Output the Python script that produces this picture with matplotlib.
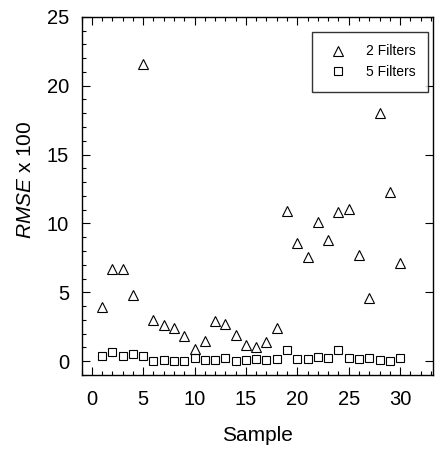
import matplotlib
matplotlib.use('Agg')
import matplotlib.pyplot as plt
from matplotlib.ticker import MultipleLocator

plt.rcParams['font.family'] = 'Liberation Sans'
plt.rcParams['mathtext.fontset'] = 'custom'
plt.rcParams['mathtext.rm'] = 'Liberation Sans'
plt.rcParams['mathtext.it'] = 'Liberation Sans:italic'

samples = list(range(1, 31))
rmse_2_filters = [3.9, 6.7, 6.7, 4.8, 21.6, 3.0, 2.6, 2.4, 1.8, 0.85,
                  1.45, 2.9, 2.7, 1.9, 1.15, 1.05, 1.4, 2.4, 10.9, 8.6,
                  7.55, 10.1, 8.8, 10.8, 11.05, 7.7, 4.55, 18.0, 12.3, 7.15]
rmse_5_filters = [0.4, 0.65, 0.35, 0.55, 0.4, 0.0, 0.1, 0.0, 0.0, 0.2,
                  0.1, 0.1, 0.2, 0.0, 0.05, 0.15, 0.1, 0.15, 0.8, 0.15,
                  0.15, 0.3, 0.2, 0.8, 0.2, 0.15, 0.2, 0.05, 0.0, 0.2]

fig = plt.figure(figsize=(4.36, 4.55), dpi=100)
ax = fig.add_axes([0.187, 0.176, 0.806, 0.787])

ax.plot(samples, rmse_2_filters, linestyle='none', marker='^', markersize=7,
        mfc='none', mec='black', mew=0.8, label='2 Filters')
ax.plot(samples, rmse_5_filters, linestyle='none', marker='s', markersize=6,
        mfc='none', mec='black', mew=0.8, label='5 Filters')

ax.set_xlim(-1, 33.2)
ax.set_ylim(-1, 25)
ax.xaxis.set_major_locator(MultipleLocator(5))
ax.xaxis.set_minor_locator(MultipleLocator(1))
ax.yaxis.set_major_locator(MultipleLocator(5))
ax.yaxis.set_minor_locator(MultipleLocator(1))

ax.tick_params(which='both', direction='in', top=True, right=True,
               labelsize=14.5)
ax.tick_params(axis='x', pad=11)
ax.tick_params(axis='y', pad=9)
ax.tick_params(which='major', length=6, width=0.8)
ax.tick_params(which='minor', length=3, width=0.8, right=False)

for s in ax.spines.values():
    s.set_linewidth(1.0)

ax.set_xlabel('Sample', fontsize=15, labelpad=12)
ax.set_ylabel('$\\it{RMSE}$ x 100', fontsize=15)
ax.yaxis.set_label_coords(-0.132, 0.545)

leg = ax.legend(loc='upper right', fontsize=10, frameon=True, fancybox=False,
                edgecolor='black', handletextpad=1.0, borderpad=0.9,
                borderaxespad=0, bbox_to_anchor=(0.986, 0.958))
leg.get_frame().set_linewidth(1.0)

fig.savefig('out.png', dpi=100)
